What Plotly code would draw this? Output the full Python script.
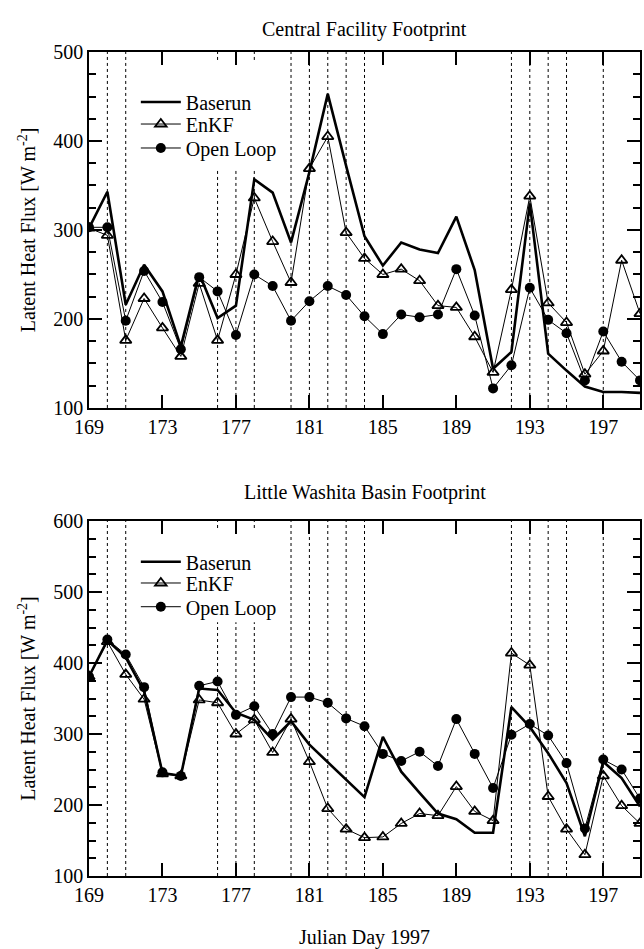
import plotly.graph_objects as go

FONT = "Liberation Serif"

days = list(range(169, 200))
assim_days = [170, 171, 176, 177, 178, 180, 181, 182, 183, 184, 192, 193, 194, 195, 197]

# Central Facility Footprint
cf_baserun = [302, 343, 216, 261, 231, 169, 251, 201, 215, 357, 342, 286, 365, 453, 372, 293,
              260, 286, 278, 274, 315, 255, 144, 163, 330, 161, 142, 124, 118, 118, 117]
cf_enkf = [302, 294, 176, 223, 190, 158, 240, 176, 250, 336, 287, 241, 369, 405, 297, 268,
           250, 256, 243, 215, 213, 180, 140, 233, 338, 218, 196, 138, 164, 266, 206]
cf_openloop = [303, 303, 198, 254, 219, 166, 247, 231, 182, 250, 237, 198, 220, 237, 227, 203,
               183, 205, 202, 205, 256, 204, 122, 148, 235, 199, 184, 131, 186, 152, 131]

# Little Washita Basin Footprint
lw_baserun = [381, 432, 408, 360, 245, 241, 364, 362, 330, 320, 292, 318, 285, 260, 235, 211,
              296, 247, 217, 188, 180, 161, 161, 338, 310, 273, 231, 156, 261, 238, 198]
lw_enkf = [381, 430, 384, 349, 244, 241, 348, 344, 300, 320, 274, 321, 261, 195, 166, 154,
           155, 174, 188, 185, 226, 191, 178, 414, 397, 212, 166, 130, 241, 199, 174]
lw_openloop = [381, 433, 412, 366, 246, 241, 368, 374, 327, 339, 300, 352, 352, 344, 322, 311,
               272, 262, 275, 255, 321, 272, 224, 299, 314, 298, 259, 167, 264, 250, 209]

series_names = ["Baserun", "EnKF", "Open Loop"]
panel_titles = ["Central Facility Footprint", "Little Washita Basin Footprint"]
x_title = "Julian Day 1997"
y_title = "Latent Heat Flux [W m<sup>-2</sup>]"

fig = go.Figure()

panels = [
    ("x", "y", ["legend", "legend2", "legend3"], cf_baserun, cf_enkf, cf_openloop),
    ("x2", "y2", ["legend4", "legend5", "legend6"], lw_baserun, lw_enkf, lw_openloop),
]
for xa, ya, lgs, base, enkf, ol in panels:
    fig.add_trace(go.Scatter(x=days, y=base, mode="lines", name=series_names[0],
                             line=dict(color="black", width=2.6),
                             xaxis=xa, yaxis=ya, legend=lgs[0]))
    fig.add_trace(go.Scatter(x=days, y=enkf, mode="lines+markers", name=series_names[1],
                             line=dict(color="black", width=1),
                             marker=dict(symbol="triangle-up-open", size=10, color="black",
                                         line=dict(width=1.8, color="black")),
                             xaxis=xa, yaxis=ya, legend=lgs[1]))
    fig.add_trace(go.Scatter(x=days, y=ol, mode="lines+markers", name=series_names[2],
                             line=dict(color="black", width=1),
                             marker=dict(symbol="circle", size=10, color="black"),
                             xaxis=xa, yaxis=ya, legend=lgs[2]))

shapes = []
for xr, yr in [("x", "y domain"), ("x2", "y2 domain")]:
    for d in assim_days:
        shapes.append(dict(type="line", xref=xr, yref=yr, x0=d, x1=d, y0=0, y1=1,
                           line=dict(color="black", width=1, dash="dot"), layer="below"))
# white background boxes behind the legends (hide the dotted lines there)
shapes.append(dict(type="rect", xref="x domain", yref="y domain", x0=0.083, x1=0.32,
                   y0=0.669, y1=0.972, fillcolor="white", line=dict(width=0), layer="below"))
shapes.append(dict(type="rect", xref="x2 domain", yref="y2 domain", x0=0.083, x1=0.32,
                   y0=0.715, y1=0.975, fillcolor="white", line=dict(width=0), layer="below"))

tickfont = dict(family=FONT, size=20, color="black")
common = dict(showline=True, linecolor="black", linewidth=1.5, mirror="allticks",
              ticks="inside", ticklen=13, tickwidth=1.5, tickcolor="black",
              showgrid=False, zeroline=False, tickfont=tickfont)
xcommon = dict(common, range=[169, 199], tick0=169, dtick=4)
minor = dict(dtick=25, ticks="inside", ticklen=7, tickwidth=1.5, tickcolor="black", showgrid=False)
ycommon = dict(common, dtick=100, minor=minor,
               title=dict(text=y_title, font=dict(family=FONT, size=20, color="black"), standoff=12))

legfont = dict(family=FONT, size=20, color="black")


def leg(yc):
    return dict(x=0.085, y=yc, xanchor="left", yanchor="middle", bgcolor="rgba(0,0,0,0)",
                font=legfont, itemwidth=40, borderwidth=0)


fig.update_layout(
    width=644, height=949,
    margin=dict(l=89, r=2, t=52, b=73),
    paper_bgcolor="white", plot_bgcolor="white",
    showlegend=True,
    xaxis=dict(xcommon, domain=[0, 1], anchor="y"),
    yaxis=dict(ycommon, domain=[0.568, 1], range=[100, 500], anchor="x"),
    xaxis2=dict(xcommon, domain=[0, 1], anchor="y2"),
    yaxis2=dict(ycommon, domain=[0, 0.4308], range=[100, 600], anchor="x2"),
    legend=leg(0.9394), legend2=leg(0.9126), legend3=leg(0.8835),
    legend4=leg(0.3814), legend5=leg(0.3556), legend6=leg(0.3268),
    shapes=shapes,
    annotations=[
        dict(text=panel_titles[0], xref="paper", yref="paper", x=0.5, y=1.027,
             xanchor="center", yanchor="middle", showarrow=False,
             font=dict(family=FONT, size=20, color="black")),
        dict(text=panel_titles[1], xref="paper", yref="paper", x=0.5, y=0.466,
             xanchor="center", yanchor="middle", showarrow=False,
             font=dict(family=FONT, size=20, color="black")),
        dict(text=x_title, xref="paper", yref="paper", x=0.5, y=-0.075,
             xanchor="center", yanchor="middle", showarrow=False,
             font=dict(family=FONT, size=20, color="black")),
    ],
)

fig.write_html("out.html")
